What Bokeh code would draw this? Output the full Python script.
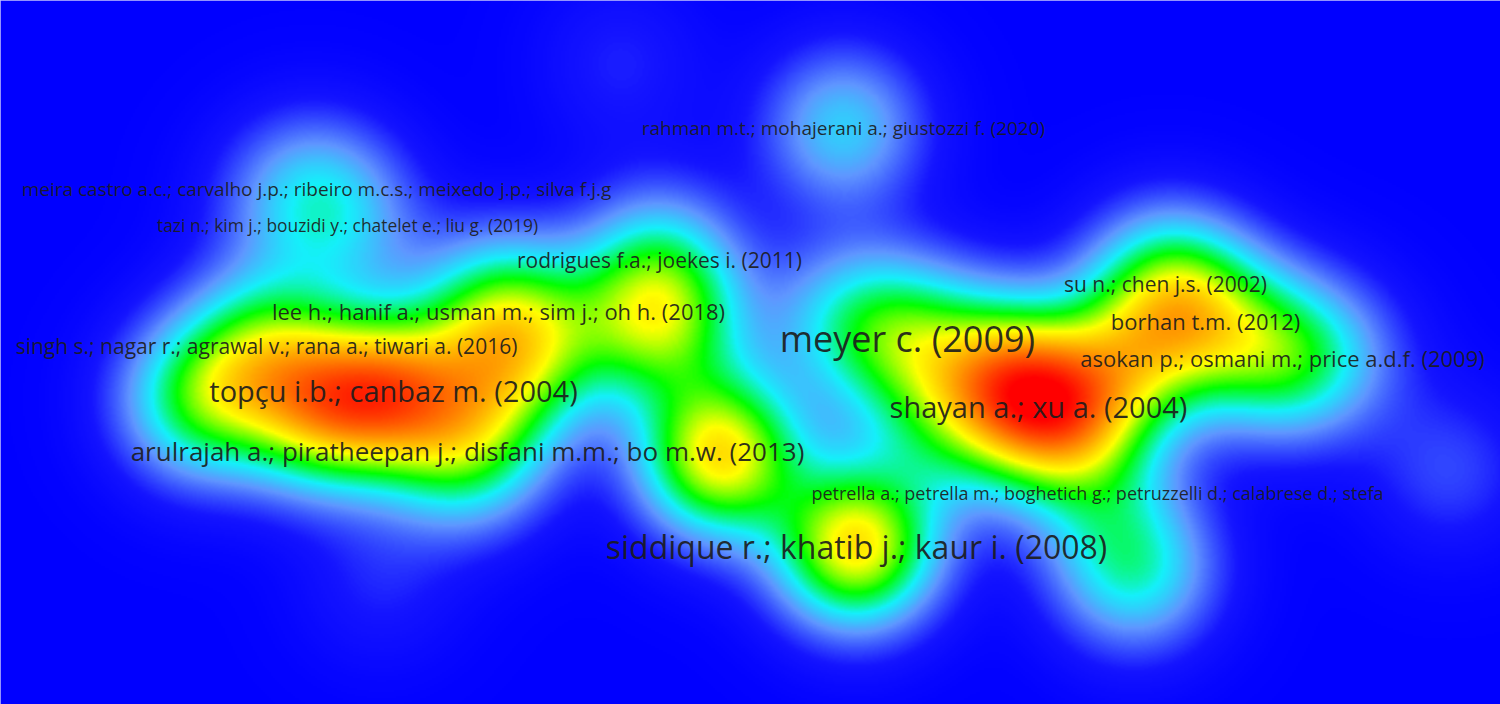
import numpy as np
from bokeh.plotting import figure
from bokeh.models import Range1d, LinearColorMapper, ColumnDataSource
from bokeh.core.properties import value
from bokeh.embed import file_html
from bokeh.resources import INLINE

# ---- data (map coordinates) ----
labels = [
    "rahman m.t.; mohajerani a.; giustozzi f. (2020)",
    "meira castro a.c.; carvalho j.p.; ribeiro m.c.s.; meixedo j.p.; silva f.j.g",
    "tazi n.; kim j.; bouzidi y.; chatelet e.; liu g. (2019)",
    "rodrigues f.a.; joekes i. (2011)",
    "su n.; chen j.s. (2002)",
    "lee h.; hanif a.; usman m.; sim j.; oh h. (2018)",
    "borhan t.m. (2012)",
    "singh s.; nagar r.; agrawal v.; rana a.; tiwari a. (2016)",
    "meyer c. (2009)",
    "asokan p.; osmani m.; price a.d.f. (2009)",
    "topçu i.b.; canbaz m. (2004)",
    "shayan a.; xu a. (2004)",
    "arulrajah a.; piratheepan j.; disfani m.m.; bo m.w. (2013)",
    "petrella a.; petrella m.; boghetich g.; petruzzelli d.; calabrese d.; stefa",
    "siddique r.; khatib j.; kaur i. (2008)",
]
label_x = [0.93, -4.34, -4.03, -0.91, 4.15, -2.52, 4.55, -4.84, 1.57, 5.32, -3.57, 2.88, -2.83, 3.47, 1.06]
label_y = [2.25, 1.64, 1.28, 0.93, 0.69, 0.42, 0.32, 0.07, 0.14, -0.05, -0.38, -0.54, -0.98, -1.40, -1.94]
citations = [22, 22, 5, 62, 62, 90, 90, 62, 1000, 90, 422, 422, 250, 10, 640]
density_w = [0.45, 0.25, 0.25, 0.40, 0.55, 0.60, 0.55, 0.60, 0.60, 0.60, 1.00, 0.85, 0.65, 0.25, 1.10]

# unlabeled items (labels hidden because of overlap)
hidden_x = [-5.50, -4.30, -1.90, -0.90, -0.30, -2.40, 3.85, 1.90, 2.50, 3.30, 3.80, 0.90, 7.00, -3.70, -1.30, -4.70, 5.90]
hidden_y = [-0.48, -0.58, 0.22, 0.30, -1.03, -0.20, -2.18, -0.80, -0.18, -0.68, -0.08, 0.32, -1.18, -2.30, 2.90, 1.52, -0.05]
hidden_w = [0.70, 0.85, 0.25, 0.75, 1.10, 0.50, 0.55, 0.35, 0.65, 0.45, 0.55, 0.35, 0.18, 0.12, 0.12, 0.15, 0.20]

# ---- density ----
X0, X1, Y0, Y1 = -7.5, 7.5, -3.52, 3.52
nx, ny = 750, 352
gx = np.linspace(X0, X1, nx)
gy = np.linspace(Y0, Y1, ny)
GX, GY = np.meshgrid(gx, gy)
D = np.zeros_like(GX)
sigma = 0.56
for xi, yi, wi in zip(label_x + hidden_x, label_y + hidden_y, density_w + hidden_w):
    D += wi * np.exp(-((GX - xi) ** 2 + (GY - yi) ** 2) / (2 * sigma ** 2))
D = ((D / D.max()) ** 0.8).astype(np.float32)

stops = [
    (0.00, (0, 0, 255)),
    (0.10, (20, 20, 255)),
    (0.25, (95, 150, 255)),
    (0.37, (20, 240, 250)),
    (0.50, (0, 255, 0)),
    (0.64, (255, 255, 0)),
    (0.80, (255, 128, 0)),
    (0.96, (255, 0, 0)),
    (1.00, (255, 0, 0)),
]
ts = np.linspace(0, 1, 256)
st = np.array([s[0] for s in stops])
cols = np.array([s[1] for s in stops], dtype=float)
pal = []
for t in ts:
    r = np.interp(t, st, cols[:, 0]); g = np.interp(t, st, cols[:, 1]); b = np.interp(t, st, cols[:, 2])
    pal.append("#%02x%02x%02x" % (int(round(r)), int(round(g)), int(round(b))))
mapper = LinearColorMapper(palette=pal, low=0, high=1)

W, H = 1500, 704
p = figure(width=W, height=H, output_backend="svg", toolbar_location=None,
           x_range=Range1d(X0, X1), y_range=Range1d(Y0, Y1), min_border=0)
p.axis.visible = False
p.grid.visible = False
p.outline_line_color = "#c4c4ff"
p.outline_line_width = 3
p.background_fill_color = "#0000ff"
p.border_fill_color = "white"

p.image(image=[D], x=X0, y=Y0, dw=X1 - X0, dh=Y1 - Y0, color_mapper=mapper)

cmax = max(citations)
fs = [f"{16 + 20 * np.sqrt(c / cmax):.1f}px" for c in citations]
src = ColumnDataSource(dict(x=label_x, y=label_y, text=labels, fs=fs))
p.text(x="x", y="y", text="text", source=src, text_font=value("Open Sans"),
       text_font_size="fs", text_align="center", text_baseline="middle",
       text_color="#1c1c1c", text_alpha=0.92)

open("out.html", "w").write(file_html(p, INLINE))
